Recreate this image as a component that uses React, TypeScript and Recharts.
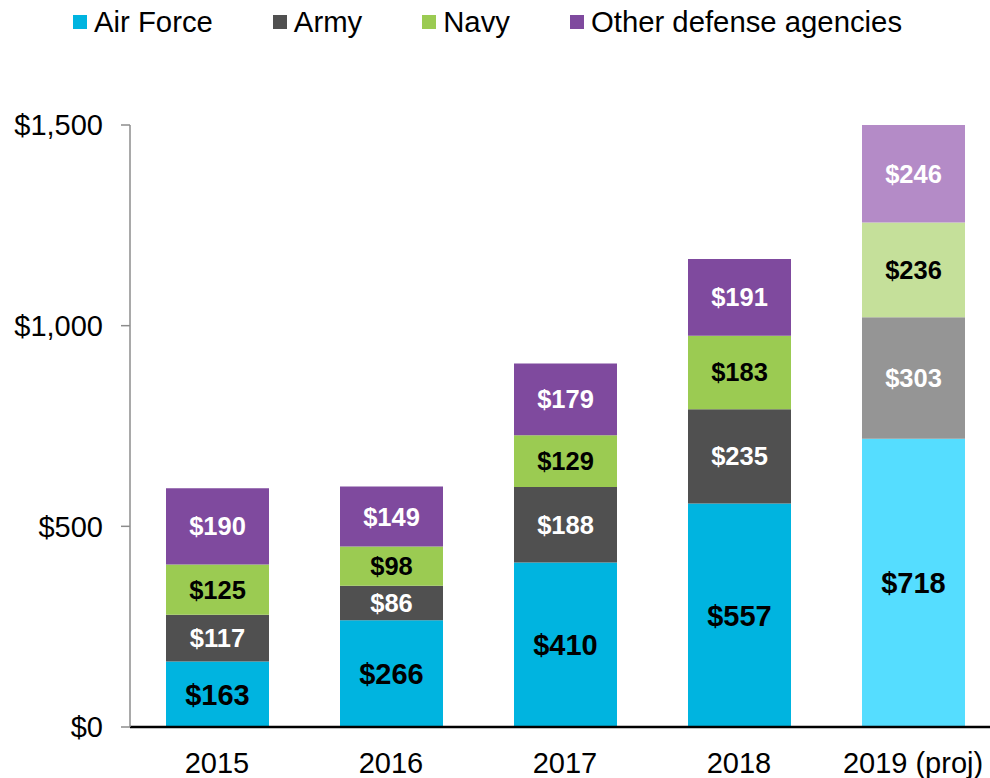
import { Bar, BarChart, Cell, LabelList, XAxis, YAxis } from 'recharts'

const years = ['2015', '2016', '2017', '2018', '2019 (proj)']
const projected = [false, false, false, false, true]
const airForce = [163, 266, 410, 557, 718]
const army = [117, 86, 188, 235, 303]
const navy = [125, 98, 129, 183, 236]
const otherAgencies = [190, 149, 179, 191, 246]
const yTicks = [0, 500, 1000, 1500]

const series = [
  { key: 'airForce', name: 'Air Force', color: '#00B4E0', light: '#55DDFF', label: '#000', size: 29 },
  { key: 'army', name: 'Army', color: '#505050', light: '#959595', label: '#fff', size: 25.5 },
  { key: 'navy', name: 'Navy', color: '#9BCB52', light: '#C5E09A', label: '#000', size: 25.5 },
  { key: 'other', name: 'Other defense agencies', color: '#7F4A9E', light: '#B48BC7', label: '#fff', size: 25.5 },
]

const data = years.map((year, i) => ({
  year,
  airForce: airForce[i],
  army: army[i],
  navy: navy[i],
  other: otherAgencies[i],
}))

const money = (v: number) => '$' + new Intl.NumberFormat('en-US').format(v)

const font = 'Liberation Sans, Arial, sans-serif'

export default function App() {
  return (
    <div style={{ position: 'absolute', left: 0, top: 0, width: 990, height: 778, overflow: 'hidden', background: '#fff', fontFamily: font }}>
      <div style={{ position: 'absolute', left: 73, top: 5, display: 'flex', alignItems: 'center', fontSize: 29.3, color: '#000', whiteSpace: 'nowrap' }}>
        {series.map((s) => (
          <div key={s.key} style={{ display: 'flex', alignItems: 'center', marginRight: 60 }}>
            <span style={{ display: 'inline-block', width: 14, height: 14, background: s.color, marginRight: 7 }} />
            <span>{s.name}</span>
          </div>
        ))}
      </div>
      <BarChart
        width={1010}
        height={778}
        data={data}
        margin={{ top: 125, right: 10, bottom: 1, left: 0 }}
        style={{ position: 'absolute', left: 0, top: 0 }}
      >
        <XAxis
          dataKey="year"
          height={50}
          tickSize={0}
          tickMargin={25}
          axisLine={{ stroke: '#000', strokeWidth: 2.5 }}
          tick={{ fontSize: 29, fill: '#000', fontFamily: font }}
        />
        <YAxis
          width={130}
          domain={[0, 1500]}
          ticks={yTicks}
          allowDataOverflow
          tickFormatter={money}
          tickSize={9}
          tickMargin={18}
          axisLine={{ stroke: '#8c8c8c', strokeWidth: 1.5 }}
          tickLine={{ stroke: '#8c8c8c', strokeWidth: 1.5 }}
          tick={{ fontSize: 29, fill: '#000', fontFamily: font }}
        />
        {series.map((s) => (
          <Bar key={s.key} dataKey={s.key} name={s.name} stackId="total" barSize={103} isAnimationActive={false}>
            {data.map((d, i) => (
              <Cell key={d.year} fill={projected[i] ? s.light : s.color} />
            ))}
            <LabelList
              dataKey={s.key}
              position="center"
              formatter={(v: any) => money(Number(v))}
              style={{ fill: s.label, fontSize: s.size, fontWeight: 700, fontFamily: font }}
            />
          </Bar>
        ))}
      </BarChart>
    </div>
  )
}
